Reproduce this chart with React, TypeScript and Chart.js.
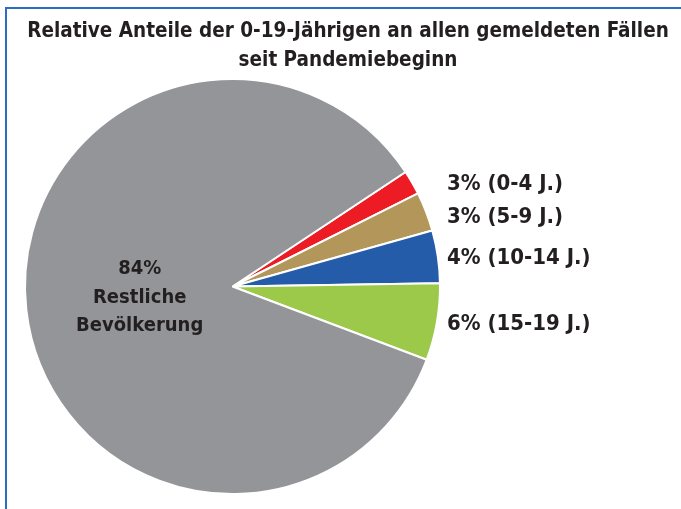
import React, { useEffect, useRef } from 'react';
import { Chart, registerables } from 'chart.js';

Chart.register(...registerables);

const titleLines = ['Relative Anteile der 0-19-Jährigen an allen gemeldeten Fällen', 'seit Pandemiebeginn'];
const categories = ['0-4 J.', '5-9 J.', '10-14 J.', '15-19 J.', 'Restliche Bevölkerung'];
const shares = [1.9, 3.05, 4.1, 6.0, 84.95];
const percentLabels = ['3%', '3%', '4%', '6%', '84%'];
const colors = ['#ED1C24', '#B3975A', '#255CA9', '#9CC94A', '#939598'];

const FONT = '"DejaVu Sans Condensed", "DejaVu Sans", sans-serif';
const TEXT = '#231F20';

const labelPlugin = {
  id: 'customLabels',
  afterDraw(chart: any) {
    const ctx = chart.ctx;
    const meta = chart.getDatasetMeta(0);
    ctx.save();
    ctx.fillStyle = TEXT;
    ctx.textBaseline = 'middle';
    // title
    ctx.textAlign = 'center';
    ctx.font = `bold 20.5px ${FONT}`;
    ctx.fillText(titleLines[0], 348, 32);
    ctx.fillText(titleLines[1], 348, 61);
    let lastY = -Infinity;
    meta.data.forEach((arc: any, i: number) => {
      const p = arc.getProps(['x', 'y', 'startAngle', 'endAngle', 'outerRadius'], true);
      const mid = (p.startAngle + p.endAngle) / 2;
      if (i < 4) {
        ctx.textAlign = 'left';
        ctx.font = `bold 22px ${FONT}`;
        let y = p.y + Math.sin(mid) * p.outerRadius + 2;
        if (y < lastY + 33) y = lastY + 33;
        lastY = y;
        ctx.fillText(`${percentLabels[i]} (${categories[i]})`, p.x + p.outerRadius + 7, y);
      } else {
        ctx.textAlign = 'center';
        ctx.font = `bold 20px ${FONT}`;
        const r = p.outerRadius * 0.45;
        const x = p.x + Math.cos(mid) * r;
        const y = p.y + Math.sin(mid) * r + 1;
        const parts = categories[i].split(' ');
        ctx.fillText(percentLabels[i], x, y - 29);
        ctx.fillText(parts[0], x, y);
        ctx.fillText(parts[1], x, y + 28);
      }
    });
    ctx.restore();
  },
};

export default function App() {
  const ref = useRef<HTMLCanvasElement>(null);
  useEffect(() => {
    if (!ref.current) return;
    const chart = new Chart(ref.current, {
      type: 'pie',
      data: {
        labels: categories,
        datasets: [
          {
            data: shares,
            backgroundColor: colors,
            borderColor: '#FFFFFF',
            borderWidth: 2,
          },
        ],
      },
      options: {
        responsive: false,
        animation: false,
        rotation: 56.5,
        radius: 207.5,
        layout: { padding: { left: 26, top: 80, right: 242, bottom: 16 } },
        plugins: {
          legend: { display: false },
          tooltip: { enabled: false },
          title: { display: false },
        },
      },
      plugins: [labelPlugin],
    });
    return () => chart.destroy();
  }, []);
  return (
    <div style={{ position: 'fixed', left: 0, top: 0, width: 681, height: 509, background: '#fff', overflow: 'hidden' }}>
      <canvas ref={ref} width={681} height={509} style={{ position: 'absolute', left: 0, top: 0 }} />
      <div style={{ position: 'absolute', left: 5, top: 7, width: 700, height: 600, borderTop: '2px solid #2A6EBF', borderLeft: '2px solid #2A6EBF', pointerEvents: 'none' }} />
    </div>
  );
}
